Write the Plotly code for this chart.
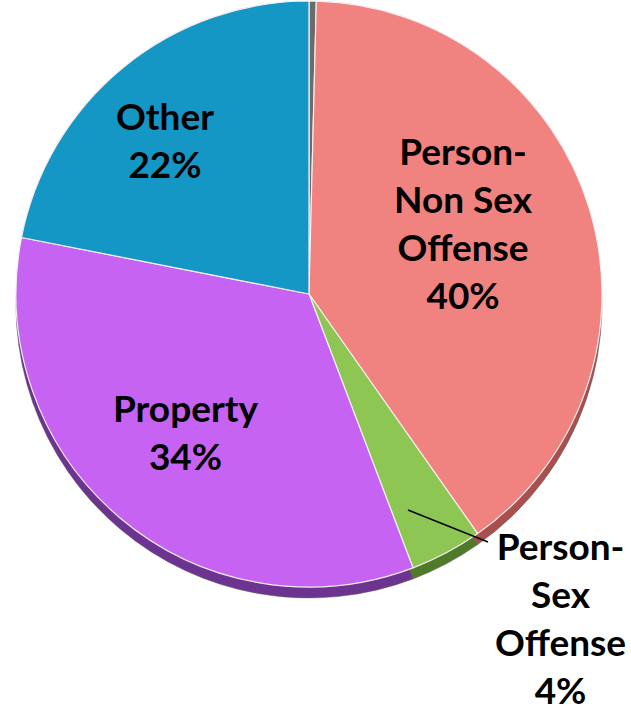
import plotly.graph_objects as go

# Offense categories, clockwise from 12 o'clock
categories = ["Unknown", "Person-Non Sex Offense", "Person-Sex Offense", "Property", "Other"]
label_lines = ["", "Person-<br>Non Sex<br>Offense", "Person-<br>Sex<br>Offense", "Property", "Other"]
shares = [0.4, 40, 4, 34, 22]

top_colors = ["#6b6b6b", "#f0827f", "#8dc653", "#c763f2", "#1597c6"]
side_colors = ["#3f3f3f", "#a9504e", "#4f7a2a", "#6d3390", "#0c5f80"]

W, H = 631, 714
cx, cy, d = 309, 294, 586   # pie centre and diameter in pixels
depth = 11                   # thickness of the rim below the top face


def dom(cx_px, cy_px, size):
    x0 = (cx_px - size / 2) / W
    x1 = (cx_px + size / 2) / W
    y0 = 1 - (cy_px + size / 2) / H
    y1 = 1 - (cy_px - size / 2) / H
    return dict(x=[x0, x1], y=[y0, y1])


fig = go.Figure()

# darker copy, shifted down, forms the visible side of the disc
fig.add_trace(go.Pie(
    labels=categories, values=shares, sort=False, direction="clockwise", rotation=0,
    marker=dict(colors=side_colors, line=dict(color="#5a5a5a", width=0.5)),
    textinfo="none", hoverinfo="skip", showlegend=False,
    domain=dom(cx, cy + depth, d),
))

# top face
fig.add_trace(go.Pie(
    labels=categories, values=shares, sort=False, direction="clockwise", rotation=0,
    marker=dict(colors=top_colors, line=dict(color="#f4eef0", width=1.2)),
    textinfo="none", showlegend=False,
    domain=dom(cx, cy, d),
))

# label positions (pixels) for each category
label_pos = {
    "Person-Non Sex Offense": (463, 222),
    "Person-Sex Offense": (560, 617),
    "Property": (185, 431),
    "Other": (165, 140),
}

annotations = []
for name, lines, val in zip(categories, label_lines, shares):
    if name not in label_pos:
        continue
    px, py = label_pos[name]
    annotations.append(dict(
        x=px / W, y=1 - py / H, xref="paper", yref="paper",
        text=f"<b>{lines}<br>{val:g}%</b>", showarrow=False,
        font=dict(family="Lato", size=37, color="#000000", weight=900),
        align="center", xanchor="center", yanchor="middle",
    ))

shapes = [dict(
    type="line", xref="paper", yref="paper",
    x0=408 / W, y0=1 - 510 / H, x1=488 / W, y1=1 - 542 / H,
    line=dict(color="#000000", width=1.5),
)]

fig.update_layout(
    width=W, height=H,
    margin=dict(l=0, r=0, t=0, b=0),
    paper_bgcolor="white", plot_bgcolor="white",
    annotations=annotations, shapes=shapes,
)

fig.write_html("out.html")
